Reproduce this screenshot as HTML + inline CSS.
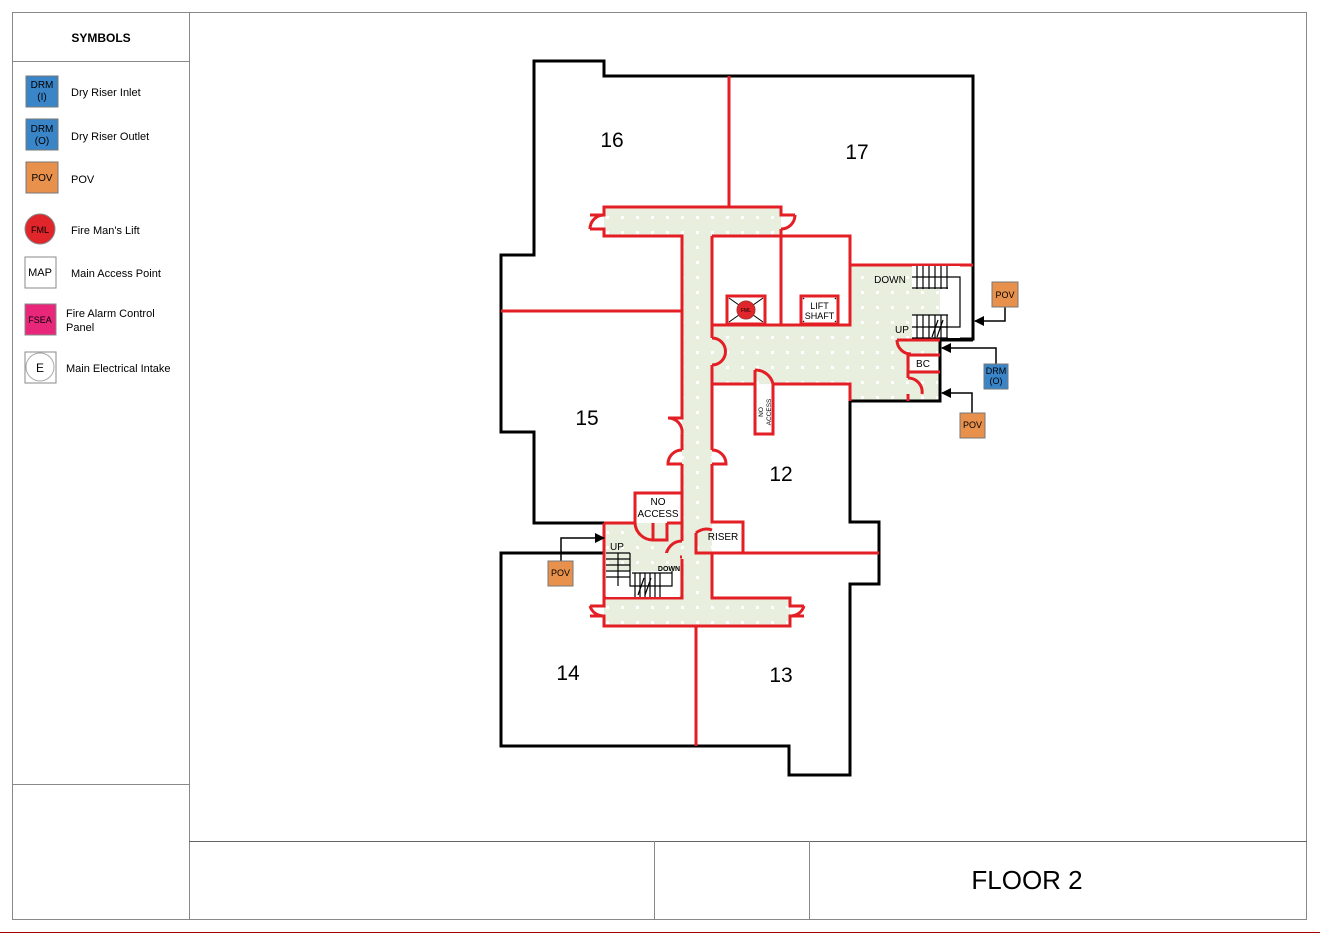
<!DOCTYPE html>
<html><head><meta charset="utf-8"><style>
html,body{margin:0;padding:0;background:#fff;}
svg{display:block;font-family:"Liberation Sans",sans-serif;}
</style></head><body>
<svg width="1320" height="934" viewBox="0 0 1320 934" xmlns="http://www.w3.org/2000/svg">
<defs>
<pattern id="dots" x="0" y="0" width="15" height="15" patternUnits="userSpaceOnUse">
<rect width="15" height="15" fill="#e8efdf"/><rect x="6" y="6" width="3" height="3" fill="#fff"/>
</pattern>
<marker id="ah" markerWidth="10" markerHeight="10" refX="9" refY="5" orient="auto" markerUnits="userSpaceOnUse"><path d="M0,0 L10,5 L0,10 z" fill="#000"/></marker>
</defs>
<rect x="12.5" y="12.5" width="1294" height="907" fill="none" stroke="#888" stroke-width="1"/>
<line x1="189.5" y1="12" x2="189.5" y2="920" stroke="#888"/>
<line x1="12" y1="61.5" x2="189" y2="61.5" stroke="#888"/>
<line x1="12" y1="784.5" x2="189" y2="784.5" stroke="#888"/>
<line x1="189" y1="841.5" x2="1307" y2="841.5" stroke="#666"/>
<line x1="654.5" y1="841" x2="654.5" y2="920" stroke="#888"/>
<line x1="809.5" y1="841" x2="809.5" y2="920" stroke="#888"/>
<line x1="0" y1="932.5" x2="1320" y2="932.5" stroke="#a00" stroke-width="1"/>
<text x="1027" y="889" font-size="26" text-anchor="middle">FLOOR 2</text>

<text x="101" y="42" font-size="12" font-weight="bold" text-anchor="middle">SYMBOLS</text>
<g font-size="11">
<rect x="26" y="76" width="32" height="31" fill="#3a85c8" stroke="#777"/>
<text x="42" y="88" font-size="10" text-anchor="middle">DRM</text><text x="42" y="100" font-size="10" text-anchor="middle">(I)</text>
<text x="71" y="96">Dry Riser Inlet</text>
<rect x="26" y="119" width="32" height="31" fill="#3a85c8" stroke="#777"/>
<text x="42" y="132" font-size="10" text-anchor="middle">DRM</text><text x="42" y="144" font-size="10" text-anchor="middle">(O)</text>
<text x="71" y="140">Dry Riser Outlet</text>
<rect x="26" y="162" width="32" height="31" fill="#e8914c" stroke="#777"/>
<text x="42" y="181" font-size="10" text-anchor="middle">POV</text>
<text x="71" y="183">POV</text>
<circle cx="40" cy="229" r="15" fill="#e0252b" stroke="#888"/>
<text x="40" y="233" font-size="9" text-anchor="middle">FML</text>
<text x="71" y="234">Fire Man's Lift</text>
<rect x="25" y="257" width="31" height="31" fill="#fff" stroke="#888"/>
<text x="40" y="276" font-size="11" text-anchor="middle">MAP</text>
<text x="71" y="277">Main Access Point</text>
<rect x="25" y="304" width="31" height="31" fill="#e8267a" stroke="#888"/>
<text x="40" y="323" font-size="9" text-anchor="middle">FSEA</text>
<text x="66" y="317">Fire Alarm Control</text><text x="66" y="331">Panel</text>
<rect x="25" y="352" width="31" height="31" fill="#fff" stroke="#888"/>
<circle cx="40" cy="367" r="14" fill="#fff" stroke="#aaa"/>
<text x="40" y="372" font-size="12" text-anchor="middle">E</text>
<text x="66" y="372">Main Electrical Intake</text>
</g>

<g fill="url(#dots)">
<rect x="604" y="207" width="177" height="29"/>
<rect x="682" y="236" width="30" height="390"/>
<rect x="712" y="325" width="140" height="59"/>
<rect x="850" y="265" width="90" height="136"/>
<rect x="604" y="598" width="186" height="28"/>
<rect x="604" y="523" width="78" height="75"/>
</g>

<g fill="none" stroke="#000" stroke-width="3">
<polyline points="604,523 534,523 534,432 501,432 501,255 534,255 534,61 604,61 604,76 973,76 973,339 940,339 940,401 850,401 850,522 879,522 879,584 850,584 850,775 789,775 789,746 501,746 501,553 604,553"/>
<line x1="604" y1="523" x2="604" y2="553"/>
</g>

<g fill="none" stroke="#e31e24" stroke-width="3">
<line x1="729" y1="76" x2="729" y2="207"/>
<line x1="501" y1="311" x2="682" y2="311"/>
<line x1="696" y1="626" x2="696" y2="746"/>
<line x1="712" y1="553" x2="879" y2="553"/>
<polyline points="682,311 682,236 604,236 604,229 590,229"/>
<polyline points="590,215 604,215 604,207 781,207 781,215 795,215"/>
<polyline points="712,236 712,325"/>
<polyline points="712,236 850,236 850,265 973,265"/>
<line x1="781" y1="229" x2="781" y2="325"/>
<polyline points="850,236 850,325 712,325"/>
<polyline points="682,311 682,418 668,418"/>
<polyline points="682,464 682,493"/>
<polyline points="682,434 682,450"/>
<polyline points="712,325 712,338"/>
<polyline points="712,365 712,384 755,384"/>
<polyline points="773,384 850,384 850,401"/>
<polyline points="712,384 712,450"/>
<polyline points="712,464 712,522 743,522 743,553 712,553 712,598 790,598 790,606 804,606"/>
<polyline points="696,533 696,553 712,553"/>
<polyline points="755,370 755,434 773,434 773,384"/>
<rect x="727" y="296" width="38" height="28"/>
<rect x="801" y="296" width="37" height="28"/>
<polyline points="897,340 940,340"/>
<polyline points="908,355 940,355"/>
<polyline points="908,355 908,372 940,372"/>
<polyline points="908,372 908,378"/>
<polyline points="908,394 908,401"/>
<polyline points="604,523 635,523 635,493 682,493 682,523"/>
<polyline points="653,523 653,540 667,540 667,523"/>
<polyline points="667,523 682,523 682,541"/>
<polyline points="682,559 682,598 604,598"/>
<polyline points="604,523 604,606 590,606"/>
<polyline points="590,616 604,616 604,626 790,626 790,616 804,616"/>
<path d="M590,229 A14,14 0 0 1 604,215"/>
<path d="M795,215 A14,14 0 0 1 781,229"/>
<path d="M712,338 A12,12 0 0 1 712,365"/>
<path d="M668,418 A14,14 0 0 1 682,434"/>
<path d="M682,450 A14,14 0 0 0 668,464 L682,464"/>
<path d="M712,450 A14,14 0 0 1 726,464 L712,464"/>
<path d="M755,370 A18,18 0 0 1 773,384"/>
<path d="M897,340 A14,14 0 0 0 911,354"/>
<path d="M908,378 A14,14 0 0 1 922,394"/>
<path d="M635,523 A18,18 0 0 0 653,540"/>
<path d="M682,541 A16,16 0 0 0 666,557 L682,557"/>
<path d="M696,533 A16,16 0 0 1 712,530"/>
<path d="M590,606 A14,14 0 0 0 604,616"/>
<path d="M804,606 A14,14 0 0 1 790,616"/>
</g>
<g stroke="#000" stroke-width="1">
<line x1="729" y1="298" x2="763" y2="322"/><line x1="763" y1="298" x2="729" y2="322"/>
<line x1="803" y1="298" x2="807" y2="302"/><line x1="836" y1="298" x2="832" y2="302"/>
<line x1="803" y1="322" x2="807" y2="318"/><line x1="836" y1="322" x2="832" y2="318"/>
</g>
<circle cx="746" cy="310" r="9" fill="#e0252b" stroke="#a33"/>
<text x="746" y="312" font-size="5" text-anchor="middle" fill="#000">FML</text>
<rect x="804" y="299" width="31" height="22" fill="#fff"/>
<text x="819.5" y="309" font-size="9" text-anchor="middle">LIFT</text>
<text x="819.5" y="319" font-size="9" text-anchor="middle">SHAFT</text>
<text transform="translate(766,412) rotate(-90)" font-size="6.5" text-anchor="middle"><tspan x="0" y="-3">NO</tspan><tspan x="0" y="5">ACCESS</tspan></text>

<g stroke="#000" stroke-width="1.2" fill="none">
<rect x="912" y="266" width="36" height="23" fill="#fff" stroke="none"/>
<rect x="912" y="315" width="36" height="23" fill="#fff" stroke="none"/>
<rect x="948" y="266" width="12" height="72" fill="#fff" stroke="none"/>
<line x1="912" y1="277" x2="948" y2="277"/><line x1="912" y1="288" x2="948" y2="288"/>
<line x1="912" y1="327" x2="948" y2="327"/><line x1="912" y1="338" x2="948" y2="338"/>
<path d="M917,266V289M923,266V289M929,266V289M935,266V289M941,266V289M947,266V289"/>
<path d="M917,315V338M923,315V338M929,315V338M935,315V338M941,315V338M947,315V338"/>
<polyline points="912,315 948,315"/>
<polyline points="948,277 960,277 960,327 930,327"/>
<line x1="932" y1="337" x2="938" y2="320"/><line x1="937" y1="337" x2="943" y2="320"/>
</g>
<line x1="940" y1="340" x2="973" y2="340" stroke="#000" stroke-width="3"/>
<text x="890" y="283" font-size="10" text-anchor="middle">DOWN</text>
<text x="902" y="333" font-size="10" text-anchor="middle">UP</text>
<rect x="910" y="357" width="28" height="13" fill="#fff"/>
<text x="923" y="367" font-size="10" text-anchor="middle">BC</text>

<g stroke="#000" stroke-width="1.2" fill="none">
<rect x="606" y="553" width="74" height="44" fill="#fff" stroke="none"/>
<rect x="606" y="553" width="74" height="17" fill="url(#dots)" stroke="none"/>
<rect x="630" y="553" width="50" height="18" fill="url(#dots)" stroke="none"/>
<path d="M606,553H630M606,559H630M606,565H630M606,571H630M606,577H630"/>
<path d="M630,553V586H672V571"/>
<path d="M618,553V586"/>
<path d="M635,573V597M640,573V597M645,573V597M650,573V597M655,573V597M660,573V597"/>
<path d="M632,573H672"/>
<line x1="638" y1="595" x2="644" y2="578"/><line x1="645" y1="595" x2="651" y2="578"/>
</g>
<text x="617" y="550" font-size="10" text-anchor="middle">UP</text>
<text x="669" y="571" font-size="7" font-weight="bold" text-anchor="middle">DOWN</text>
<rect x="637" y="495" width="43" height="25" fill="#fff"/>
<text x="658" y="505" font-size="10" text-anchor="middle">NO</text>
<text x="658" y="517" font-size="10" text-anchor="middle">ACCESS</text>
<rect x="714" y="524" width="27" height="27" fill="#fff"/>
<text x="723" y="540" font-size="10" text-anchor="middle">RISER</text>

<g font-size="21" text-anchor="middle">
<text x="612" y="147">16</text>
<text x="857" y="159">17</text>
<text x="587" y="425">15</text>
<text x="781" y="481">12</text>
<text x="568" y="680">14</text>
<text x="781" y="682">13</text>
</g>

<g stroke="#000" stroke-width="1.5" fill="none">
<polyline points="1005,307 1005,321 975,321" marker-end="url(#ah)"/>
<polyline points="996,364 996,348 942,348" marker-end="url(#ah)"/>
<polyline points="972,413 972,393 942,393" marker-end="url(#ah)"/>
<polyline points="561,561 561,538 604,538" marker-end="url(#ah)"/>
</g>
<rect x="992" y="282" width="26" height="25" fill="#e8914c" stroke="#777"/>
<text x="1005" y="298" font-size="9" text-anchor="middle">POV</text>
<rect x="984" y="364" width="24" height="25" fill="#3a85c8" stroke="#777"/>
<text x="996" y="374" font-size="9" text-anchor="middle">DRM</text>
<text x="996" y="384" font-size="9" text-anchor="middle">(O)</text>
<rect x="960" y="413" width="25" height="25" fill="#e8914c" stroke="#777"/>
<text x="972.5" y="428" font-size="9" text-anchor="middle">POV</text>
<rect x="548" y="561" width="25" height="25" fill="#e8914c" stroke="#777"/>
<text x="560.5" y="576" font-size="9" text-anchor="middle">POV</text>
</svg>
</body></html>
